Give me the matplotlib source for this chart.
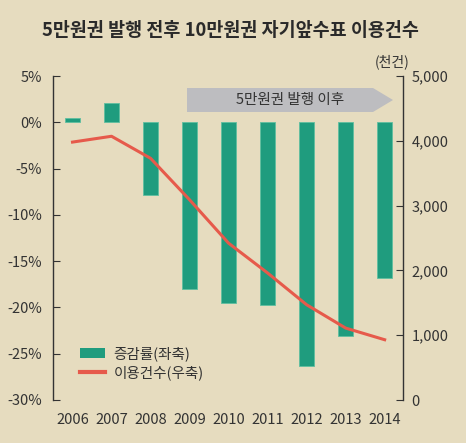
import matplotlib
matplotlib.use("Agg")
import matplotlib.pyplot as plt
from matplotlib.patches import Polygon, Patch
from matplotlib.lines import Line2D

plt.rcParams['font.family'] = ['Noto Sans CJK KR', 'DejaVu Sans']

# data
years = ['2006', '2007', '2008', '2009', '2010', '2011', '2012', '2013', '2014']
change_rate = [0.5, 2.1, -7.9, -18.0, -19.5, -19.7, -26.3, -23.1, -16.8]   # %, left axis
usage_count = [3980, 4070, 3730, 3090, 2420, 1960, 1470, 1110, 930]      # 천건, right axis
left_ticks = [5, 0, -5, -10, -15, -20, -25, -30]
right_ticks = [0, 1000, 2000, 3000, 4000, 5000]

bg = '#e6dcbf'
bar_color = '#1f9c7e'
line_color = '#e65a4b'
text_color = '#333333'

W, H = 466, 443
fig = plt.figure(figsize=(W / 100, H / 100), dpi=100, facecolor=bg)
ax = fig.add_axes([53 / W, 1 - 400 / H, 350 / W, 324 / H])
ax.set_facecolor(bg)
ax2 = ax.twinx()

x = list(range(len(years)))
ax.bar(x, change_rate, width=0.38, color=bar_color, edgecolor='#5fbfa0', linewidth=0.6, zorder=2)
ax2.plot(x, usage_count, color=line_color, lw=2.2, zorder=3)

ax.set_xlim(-0.5, 8.47)
ax.set_ylim(-30, 5)
ax2.set_ylim(0, 5000)

ax.set_yticks(left_ticks)
ax.set_yticklabels([f'{t}%' for t in left_ticks])
ax2.set_yticks(right_ticks)
ax2.set_yticklabels([f'{t:,}' for t in right_ticks])
ax.set_xticks(x)
ax.set_xticklabels(years)

for a in (ax, ax2):
    for s in ('top', 'bottom'):
        a.spines[s].set_visible(False)
    a.spines['left'].set_color(text_color)
    a.spines['right'].set_color(text_color)
    a.spines['left'].set_linewidth(1.0)
    a.spines['right'].set_linewidth(1.0)
ax.spines['right'].set_visible(False)
ax2.spines['left'].set_visible(False)

ax.tick_params(axis='y', direction='in', length=5, color=text_color, labelsize=10.5,
               labelcolor=text_color, pad=8)
ax2.tick_params(axis='y', direction='in', length=5, color=text_color, labelsize=10.5,
                labelcolor=text_color, pad=6)
ax.tick_params(axis='x', length=0, labelsize=10.5, labelcolor=text_color, pad=9)

# title and unit
fig.text(0.495, 1 - 30 / H, '5만원권 발행 전후 10만원권 자기앞수표 이용건수',
         ha='center', va='center', fontsize=13.3, fontweight='bold', color='#2a2a2a')
fig.text(392 / W, 1 - 62 / H, '(천건)', ha='center', va='center', fontsize=10, color=text_color)

# "after issuance" arrow band
pts = [(187, 88), (373, 88), (393, 100), (373, 112), (187, 112)]
arrow = Polygon([(px / W, 1 - py / H) for px, py in pts], closed=True,
                transform=fig.transFigure, facecolor='#bdbdc0', edgecolor='none', zorder=5)
fig.patches.append(arrow)
fig.text(290 / W, 1 - 100 / H, '5만원권 발행 이후', ha='center', va='center',
         fontsize=10.5, color=text_color, zorder=6)

handles = [Patch(facecolor=bar_color, edgecolor='none'),
           Line2D([0], [0], color=line_color, lw=3)]
leg = ax.legend(handles, ['증감률(좌축)', '이용건수(우축)'], loc='lower left',
                bbox_to_anchor=(0.04, 0.02), frameon=False, fontsize=10.5,
                handlelength=1.7, handletextpad=0.6, labelspacing=0.3)
for t in leg.get_texts():
    t.set_color(text_color)

fig.savefig('out.png', dpi=100, facecolor=bg)
